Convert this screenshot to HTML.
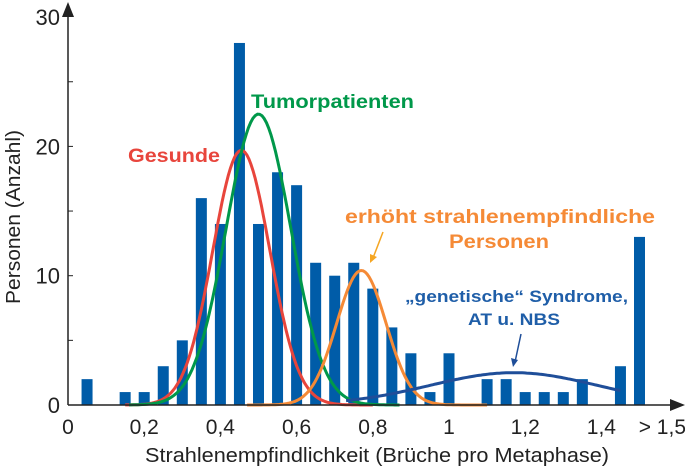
<!DOCTYPE html>
<html><head><meta charset="utf-8"><style>
html,body{margin:0;padding:0;background:#fff}
svg{display:block;font-family:"Liberation Sans",sans-serif}
</style></head><body>
<svg id="c" width="685" height="467" viewBox="0 0 685 467">
<g id="bars"></g>
<g id="curves"></g>
<g id="axes"></g>
<text x="20" y="217" transform="rotate(-90 20 217)" text-anchor="middle" font-size="20" textLength="174" lengthAdjust="spacingAndGlyphs" fill="#222">Personen (Anzahl)</text>
<text x="377" y="462" text-anchor="middle" font-size="20" textLength="464" lengthAdjust="spacingAndGlyphs" fill="#222">Strahlenempfindlichkeit (Brüche pro Metaphase)</text>
<text x="128" y="162" font-size="19" font-weight="bold" textLength="92" lengthAdjust="spacingAndGlyphs" fill="#e8453c">Gesunde</text>
<text x="251" y="108" font-size="19" font-weight="bold" textLength="163" lengthAdjust="spacingAndGlyphs" fill="#00984a">Tumorpatienten</text>
<text x="345" y="223" font-size="19" font-weight="bold" textLength="310" lengthAdjust="spacingAndGlyphs" fill="#f58a36">erhöht strahlenempfindliche</text>
<text x="499" y="248" text-anchor="middle" font-size="19" font-weight="bold" textLength="100" lengthAdjust="spacingAndGlyphs" fill="#f58a36">Personen</text>
<text x="405" y="302" font-size="17" font-weight="bold" textLength="223" lengthAdjust="spacingAndGlyphs" fill="#1f5ea8">„genetische“ Syndrome,</text>
<text x="468" y="325" font-size="17" font-weight="bold" textLength="92" lengthAdjust="spacingAndGlyphs" fill="#1f5ea8">AT u. NBS</text>
<line x1="383" y1="232" x2="373" y2="258" stroke="#f5a623" stroke-width="1.5"/>
<polygon points="370,263 370,254 377,257" fill="#f5a623"/>
<line x1="521" y1="334" x2="515" y2="362" stroke="#1f4e99" stroke-width="1.5"/>
<polygon points="513,367 511,358 518,360" fill="#1f4e99"/>
</svg>
<script>
const binCenters=[0.05,0.1,0.15,0.2,0.25,0.3,0.35,0.4,0.45,0.5,0.55,0.6,0.65,0.7,0.75,0.8,0.85,0.9,0.95,1.0,1.05,1.1,1.15,1.2,1.25,1.3,1.35,1.4,1.45,1.5];
const counts=[2,0,1,1,3,5,16,14,28,14,18,17,11,10,11,9,6,4,1,4,0,2,2,1,1,1,2,0,3,13];
const xTickValues=[0,0.2,0.4,0.6,0.8,1,1.2,1.4,1.56];
const xTickLabels=["0","0,2","0,4","0,6","0,8","1","1,2","1,4","> 1,5"];
const yTickValues=[0,10,20,30];
const yTickLabels=["0","10","20","30"];
const curveNames=["gesunde","tumorpatienten","erhoeht","genetisch"];
const curveMeans=[0.455,0.5,0.77,1.17];
const curveSigmas=[0.075,0.085,0.065,0.22];
const curvePeaks=[19.7,22.5,10.4,2.5];
const curveFrom=[0.15,0.16,0.47,0.73];
const curveTo=[0.8,0.87,1.1,1.45];
const curveColors=["#e8453c","#00984a","#f58a36","#1f4e99"];
const NS="http://www.w3.org/2000/svg";
const X=v=>68+v*381, Y=v=>405-v*12.93;
function mk(t,a,p){const e=document.createElementNS(NS,t);for(const k in a)e.setAttribute(k,a[k]);p.appendChild(e);return e;}
const bars=document.getElementById('bars');
binCenters.forEach((c,i)=>{
 if(counts[i]<=0)return;
 const r=mk('rect',{x:X(c)-5.5,y:Y(counts[i]),width:11,height:Y(0)-Y(counts[i]),fill:'#005ca8'},bars);
 
 
});
const cg=document.getElementById('curves');
curveNames.forEach((n,i)=>{
 let d='';
 for(let k=0;k<=120;k++){const x=curveFrom[i]+(curveTo[i]-curveFrom[i])*k/120;
  const y=curvePeaks[i]*Math.exp(-0.5*Math.pow((x-curveMeans[i])/curveSigmas[i],2));
  d+=(k?'L':'M')+X(x).toFixed(1)+','+Y(y).toFixed(1);}
 const p=mk('path',{d:d,fill:'none',stroke:curveColors[i],'stroke-width':3},cg);
 
 
});
const ax=document.getElementById('axes');
mk('line',{x1:68,y1:405,x2:675,y2:405,stroke:'#222','stroke-width':1.5},ax);
mk('polygon',{points:'685,405 670,399 670,411',fill:'#222'},ax);
mk('line',{x1:68,y1:405,x2:68,y2:12,stroke:'#222','stroke-width':1.5},ax);
mk('polygon',{points:'68,2 62,17 74,17',fill:'#222'},ax);
for(let v=5;v<30;v+=5){mk('line',{x1:68,y1:Y(v),x2:73,y2:Y(v),stroke:'#222','stroke-width':1},ax);}
yTickValues.forEach((v,i)=>{
 const t=mk('text',{x:60,y:Y(v)+8,'text-anchor':'end','font-size':22,fill:'#222'},ax);
 t.textContent=yTickLabels[i];
 
 
});
xTickValues.forEach((v,i)=>{
 const t=mk('text',{x:X(v),y:434,'text-anchor':'middle','font-size':21,fill:'#222'},ax);
 t.textContent=xTickLabels[i];
 
 
});
</script>
</body></html>
